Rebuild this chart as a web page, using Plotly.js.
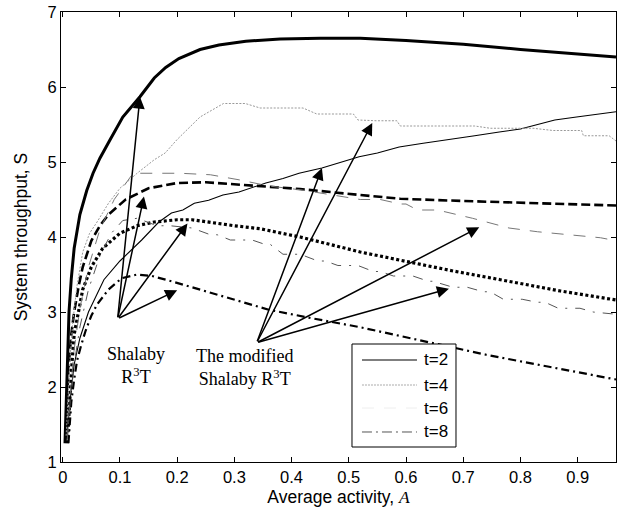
<!DOCTYPE html>
<html><head><meta charset="utf-8">
<script src="https://cdn.plot.ly/plotly-3.0.1.min.js"></script>
<style>body{margin:0;background:#fff}</style>
</head><body><div id="chart" style="width:629px;height:508px"></div>
<script>
// Shalaby R3T (thick lines)
const shalT2x = [0.004,0.006,0.008,0.011,0.015,0.02,0.03,0.042,0.053,0.065,0.083,0.105,0.135,0.16,0.18,0.203,0.24,0.273,0.32,0.38,0.45,0.52,0.6,0.7,0.8,0.9,0.967];
const shalT2y = [1.25,1.85,2.4,3.0,3.45,3.85,4.3,4.62,4.85,5.05,5.3,5.6,5.87,6.12,6.26,6.38,6.5,6.56,6.61,6.64,6.65,6.65,6.62,6.57,6.5,6.44,6.4];
const shalT4x = [0.005,0.007,0.01,0.015,0.02,0.028,0.035,0.05,0.065,0.08,0.11,0.15,0.2,0.25,0.3,0.35,0.415,0.52,0.59,0.7,0.8,0.9,0.967];
const shalT4y = [1.3,1.8,2.25,2.7,3.0,3.35,3.6,3.95,4.15,4.3,4.5,4.65,4.72,4.73,4.7,4.68,4.64,4.56,4.51,4.48,4.46,4.44,4.42];
const shalT6x = [0.008,0.01,0.012,0.016,0.02,0.028,0.035,0.05,0.07,0.1,0.13,0.16,0.2,0.226,0.26,0.3,0.345,0.415,0.52,0.59,0.68,0.765,0.87,0.967];
const shalT6y = [1.25,1.55,1.85,2.3,2.7,3.05,3.3,3.6,3.85,4.05,4.15,4.2,4.23,4.23,4.19,4.15,4.11,4.0,3.8,3.69,3.55,3.43,3.28,3.16];
const shalT8x = [0.01,0.012,0.015,0.02,0.025,0.032,0.04,0.05,0.06,0.08,0.103,0.13,0.156,0.19,0.226,0.28,0.36,0.44,0.518,0.62,0.68,0.74,0.85,0.967];
const shalT8y = [1.25,1.5,1.8,2.1,2.35,2.55,2.75,2.95,3.1,3.3,3.45,3.5,3.48,3.41,3.33,3.2,3.03,2.91,2.8,2.63,2.53,2.43,2.27,2.1];

// The modified Shalaby R3T (thin lines)
const modT2x = [0.007,0.01,0.013,0.02,0.03,0.045,0.06,0.072,0.1,0.138,0.168,0.19,0.21,0.23,0.255,0.28,0.308,0.33,0.355,0.385,0.413,0.453,0.49,0.518,0.55,0.588,0.63,0.68,0.72,0.763,0.8,0.83,0.86,0.898,0.93,0.967];
const modT2y = [1.3,1.6,1.85,2.3,2.65,3.0,3.25,3.43,3.68,3.96,4.2,4.32,4.36,4.45,4.49,4.56,4.6,4.66,4.72,4.78,4.85,4.92,5.0,5.07,5.12,5.2,5.25,5.3,5.35,5.4,5.44,5.5,5.56,5.6,5.63,5.67];
const modT4x = [0.006,0.009,0.013,0.018,0.025,0.035,0.047,0.06,0.08,0.1,0.13,0.16,0.179,0.2,0.24,0.281,0.319,0.345,0.42,0.444,0.508,0.512,0.516,0.548,0.584,0.59,0.613,0.645,0.72,0.747,0.822,0.857,0.907,0.91,0.93,0.955,0.967];
const modT4y = [1.35,1.9,2.4,2.9,3.35,3.8,4.05,4.2,4.45,4.65,4.85,5.03,5.12,5.3,5.6,5.78,5.78,5.72,5.72,5.64,5.64,5.6,5.56,5.55,5.55,5.48,5.48,5.48,5.48,5.45,5.45,5.42,5.42,5.35,5.35,5.35,5.28];
const modT6x = [0.008,0.013,0.02,0.03,0.045,0.065,0.09,0.123,0.205,0.258,0.31,0.36,0.415,0.502,0.52,0.555,0.59,0.6,0.62,0.655,0.716,0.78,0.83,0.94,0.967];
const modT6y = [1.3,1.9,2.5,3.05,3.6,4.1,4.5,4.85,4.85,4.83,4.76,4.68,4.63,4.53,4.5,4.5,4.44,4.44,4.36,4.36,4.25,4.12,4.07,3.99,3.95];
const modT8x = [0.008,0.013,0.02,0.03,0.045,0.065,0.085,0.105,0.13,0.165,0.188,0.226,0.258,0.27,0.293,0.331,0.354,0.363,0.385,0.415,0.446,0.459,0.481,0.516,0.543,0.555,0.578,0.612,0.639,0.647,0.682,0.707,0.735,0.747,0.77,0.803,0.829,0.843,0.866,0.904,0.927,0.967];
const modT8y = [1.3,1.8,2.3,2.8,3.3,3.75,4.05,4.22,4.25,4.15,4.15,4.12,4.03,4.03,3.96,3.96,3.9,3.9,3.77,3.77,3.68,3.68,3.62,3.62,3.54,3.54,3.48,3.48,3.41,3.41,3.33,3.33,3.27,3.27,3.17,3.17,3.13,3.13,3.05,3.05,3.0,2.97];

const legendNames = ['t=2','t=4','t=6','t=8'];
const xTickVals = [0,0.1,0.2,0.3,0.4,0.5,0.6,0.7,0.8,0.9];
const xTickText = ['0','0.1','0.2','0.3','0.4','0.5','0.6','0.7','0.8','0.9'];

// annotation arrow data: tails and tips (data coords)
const shalTail = [0.096, 2.91];
const shalTips = [[0.135,5.87],[0.142,4.54],[0.218,4.18],[0.2,3.29]];
const modTail = [0.339, 2.59];
const modTips = [[0.453,4.92],[0.541,5.52],[0.728,4.13],[0.675,3.31]];

const thinStyles = [
  {color:'#000', width:1.1},
  {color:'#999', width:1, dash:'2px,1.5px'},
  {color:'#777', width:1, dash:'12px,10px'},
  {color:'#555', width:1, dash:'10px,8px,2px,8px'}
];
const legendSampleStyles = [
  {color:'#000', width:1.2},
  {color:'#aaa', width:1, dash:'2px,1px'},
  {color:'#eee', width:1, dash:'12px,10px'},
  {color:'#555', width:1, dash:'10px,4px,2px,4px'}
];

const traces = [
  {x: shalT2x, y: shalT2y, mode:'lines', line:{color:'#000', width:3}},
  {x: shalT4x, y: shalT4y, mode:'lines', line:{color:'#000', width:2.6, dash:'9px,4px'}},
  {x: shalT6x, y: shalT6y, mode:'lines', line:{color:'#000', width:3.2, dash:'3px,2.5px'}},
  {x: shalT8x, y: shalT8y, mode:'lines', line:{color:'#000', width:2.2, dash:'8px,4px,2px,4px'}},
  {x: modT2x, y: modT2y, mode:'lines', name:legendNames[0], line:thinStyles[0]},
  {x: modT4x, y: modT4y, mode:'lines', name:legendNames[1], line:thinStyles[1]},
  {x: modT6x, y: modT6y, mode:'lines', name:legendNames[2], line:thinStyles[2]},
  {x: modT8x, y: modT8y, mode:'lines', name:legendNames[3], line:thinStyles[3]}
];

const annotations = [];
function addArrows(tail, tips){
  tips.forEach(t => annotations.push({
    x:t[0], y:t[1], ax:tail[0], ay:tail[1], xref:'x', yref:'y', axref:'x', ayref:'y',
    showarrow:true, arrowhead:2, arrowsize:1.6, arrowwidth:1.5, arrowcolor:'#000', standoff:0, text:''
  }));
}
addArrows(shalTail, shalTips);
addArrows(modTail, modTips);
const serif = 'Liberation Serif, Times New Roman, serif';
annotations.push({x:0.128, y:2.29, xref:'x', yref:'y', showarrow:false, align:'center',
  text:'Shalaby<br>R<sup>3</sup>T', font:{family:serif, size:18, color:'#000'}});
annotations.push({x:0.317, y:2.26, xref:'x', yref:'y', showarrow:false, align:'center',
  text:'The modified<br>Shalaby R<sup>3</sup>T', font:{family:serif, size:18, color:'#000'}});

// hand-built legend box (paper coords of the plot area)
const shapes = [{type:'rect', xref:'paper', yref:'paper', x0:0.5243, x1:0.7117, y0:0.0333, y1:0.2622,
  line:{color:'#000', width:1}, fillcolor:'#fff', layer:'above'}];
const legRowY = [0.2267, 0.1711, 0.12, 0.0667];
legendNames.forEach((n, i) => {
  shapes.push({type:'line', xref:'paper', yref:'paper', x0:0.5423, x1:0.6414, y0:legRowY[i], y1:legRowY[i],
    line:legendSampleStyles[i], layer:'above'});
  annotations.push({xref:'paper', yref:'paper', x:0.6505, y:legRowY[i], xanchor:'left', yanchor:'middle',
    showarrow:false, text:n, font:{family:'Liberation Sans, Arial, sans-serif', size:17, color:'#000'}});
});

const axisCommon = {showline:true, linecolor:'#000', linewidth:1, mirror:'ticks', ticks:'inside', ticklen:5,
  tickcolor:'#000', showgrid:false, zeroline:false, tickfont:{family:'Liberation Sans, Arial, sans-serif', size:16.5, color:'#000'}};

const layout = {
  width:629, height:508, margin:{l:61, r:13, t:12, b:46},
  paper_bgcolor:'#fff', plot_bgcolor:'#fff', showlegend:false,
  font:{family:'Liberation Sans, Arial, sans-serif', color:'#000'},
  xaxis: Object.assign({}, axisCommon, {range:[-0.003,0.967], tickvals:xTickVals, ticktext:xTickText,
    title:{text:'Average activity, <span style="font-family:Liberation Serif"><i>A</i></span>', font:{size:17.5}, standoff:5}}),
  yaxis: Object.assign({}, axisCommon, {range:[1,7], dtick:1,
    title:{text:'System throughput, S', font:{size:17.5}, standoff:15}}),
  shapes: shapes,
  annotations: annotations
};
Plotly.newPlot('chart', traces, layout, {staticPlot:true});
</script></body></html>
